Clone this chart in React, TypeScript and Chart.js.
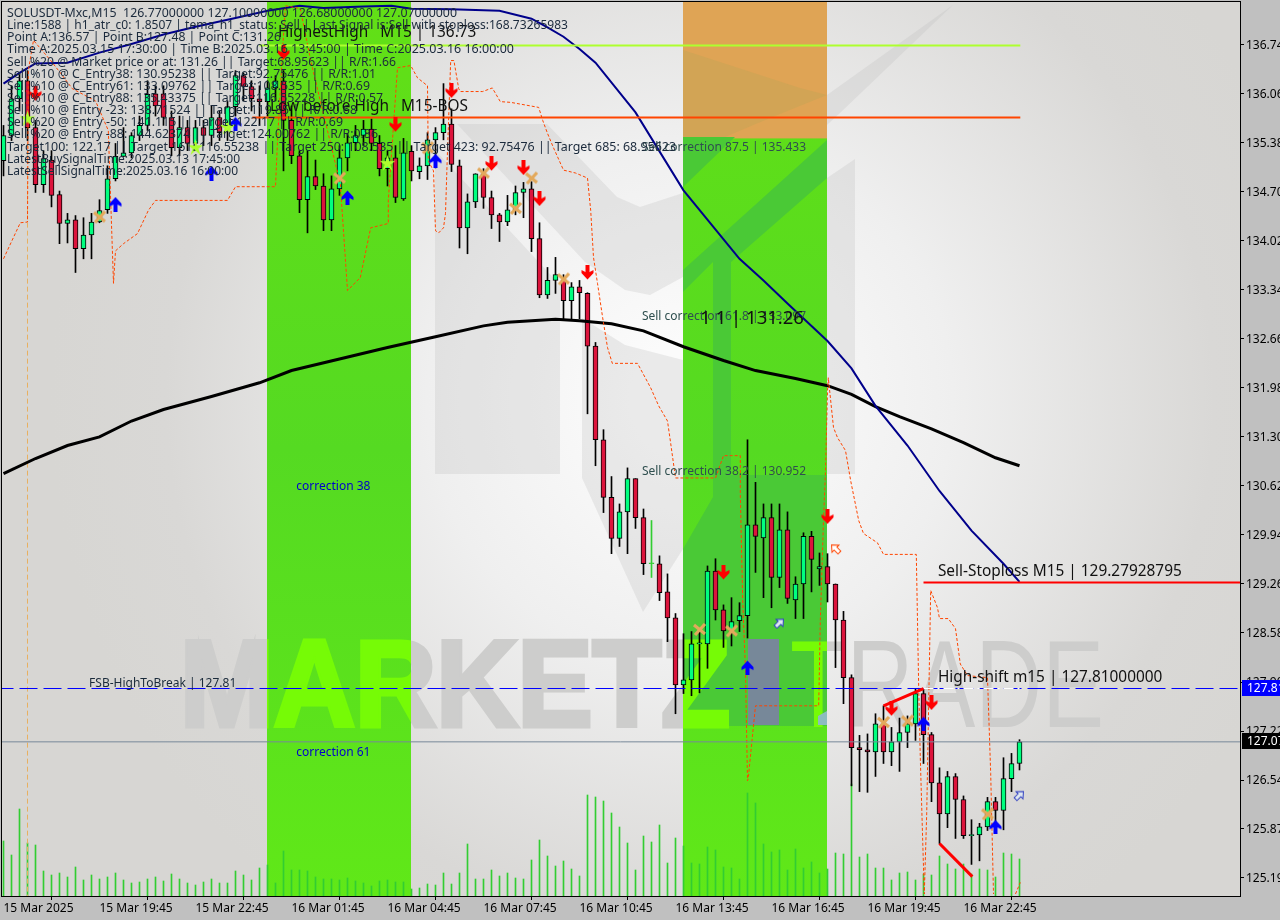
import React, { useEffect, useRef } from "react";
import { Chart, registerables } from "chart.js";

Chart.register(...registerables);

const highs = [135.62,136.17,136.35,136.38,135.69,135.27,135.27,134.71,134.40,134.37,134.34,134.40,134.59,135.06,135.37,135.59,135.52,135.75,136.24,136.17,136.17,135.82,135.75,135.69,135.69,135.69,135.89,135.82,135.96,136.38,136.35,136.24,136.17,136.24,136.31,136.38,135.89,135.27,135.27,135.14,134.95,134.92,135.34,135.51,135.62,135.69,135.71,135.48,135.27,135.34,135.44,135.34,135.17,135.52,135.59,136.20,135.85,135.14,134.67,134.95,135.02,134.71,134.40,134.65,134.78,134.83,134.84,134.27,133.65,133.79,133.55,133.44,133.47,133.30,132.61,131.40,130.75,130.37,130.87,130.72,130.30,130.14,129.65,129.40,128.85,128.57,128.60,128.61,129.51,129.61,128.97,129.07,129.00,131.26,130.67,130.37,130.37,130.37,130.26,129.36,129.97,129.99,129.69,129.68,129.26,128.88,128.00,127.16,127.18,127.46,127.57,127.27,127.40,127.43,127.81,127.81,127.20,126.71,126.66,126.63,126.32,125.99,125.94,126.30,126.30,126.85,126.91,127.10];
const opens = [135.13,135.48,135.99,136.24,135.59,134.80,135.14,134.66,134.26,134.31,133.91,134.10,134.28,134.45,134.88,135.19,135.24,135.48,135.62,136.06,136.06,135.73,135.31,135.59,135.37,135.59,135.48,135.73,135.59,135.88,136.31,136.16,135.99,135.95,136.14,136.24,135.69,135.20,134.59,134.91,134.78,134.31,134.74,135.17,135.38,135.48,135.57,135.37,135.02,135.17,134.60,135.26,134.98,135.06,135.42,135.52,135.64,135.06,134.20,134.56,134.95,134.62,134.38,134.28,134.45,134.69,134.74,134.05,133.27,133.47,133.47,133.19,133.38,133.29,132.56,131.26,130.46,129.89,130.26,130.72,130.18,129.54,129.54,129.15,128.79,127.86,127.93,128.43,128.43,129.44,128.90,128.61,128.75,128.82,130.08,129.90,130.18,129.35,130.01,129.04,129.26,129.92,129.47,129.50,129.26,128.76,127.96,126.99,126.96,126.93,127.32,126.93,127.07,127.20,127.32,127.74,127.17,126.50,126.07,126.59,126.27,125.77,125.78,125.89,126.24,126.12,126.56,126.77];
const closes = [135.48,135.99,136.24,135.59,134.80,135.16,134.65,134.26,134.31,133.91,134.10,134.28,134.44,134.88,135.19,135.24,135.48,135.62,136.05,135.89,135.73,135.31,135.59,135.37,135.59,135.48,135.73,135.52,135.88,136.31,136.16,135.99,135.95,136.14,136.24,135.69,135.20,134.59,134.91,134.78,134.31,134.74,135.17,135.38,135.48,135.57,135.37,135.02,135.17,134.62,135.24,134.99,135.06,135.42,135.52,135.64,135.08,134.20,134.56,134.95,134.62,134.38,134.28,134.45,134.69,134.74,134.05,133.27,133.47,133.55,133.19,133.38,133.30,132.56,131.26,130.46,129.89,130.26,130.72,130.18,129.54,129.54,129.14,128.79,127.86,127.93,128.43,128.43,129.44,128.90,128.61,128.74,128.82,130.08,129.92,130.18,129.35,130.01,129.06,129.26,129.92,129.60,129.50,129.26,128.76,127.96,126.99,126.96,126.93,127.32,126.93,127.07,127.20,127.32,127.74,127.17,126.50,126.07,126.59,126.27,125.77,125.77,125.89,126.24,126.12,126.56,126.77,127.07];
const lows = [134.92,135.41,135.82,135.41,134.69,134.69,134.49,133.98,133.99,133.58,133.77,133.77,134.27,134.40,134.85,135.19,135.17,135.41,135.55,135.75,135.62,135.20,135.20,135.27,135.27,135.34,135.34,135.41,135.41,135.75,135.96,135.82,135.62,135.75,135.96,134.99,135.09,134.41,134.13,134.73,134.16,134.16,134.65,134.99,135.27,135.34,135.27,134.92,134.78,134.55,134.58,134.85,134.88,134.87,135.03,135.42,134.98,133.92,133.84,134.48,134.47,134.19,134.01,134.23,134.38,134.34,133.87,133.23,133.22,133.29,132.93,132.93,132.94,131.62,130.90,130.25,129.68,129.78,129.68,130.03,129.39,129.35,129.03,128.46,127.46,127.74,127.71,127.75,128.09,128.76,128.38,128.40,128.60,128.51,129.42,129.07,128.93,129.21,128.99,128.78,128.78,129.15,129.24,129.01,128.10,127.60,126.46,126.38,126.37,126.59,126.77,126.74,126.66,126.99,127.09,126.77,126.24,125.66,125.88,125.73,125.73,125.37,125.42,125.84,125.80,125.85,126.38,126.68];
const volumes = [550,410,870,530,510,250,210,230,190,290,160,210,170,190,230,160,130,140,170,190,150,220,170,130,110,140,170,130,130,250,210,160,280,310,130,450,260,260,250,190,170,170,160,180,150,130,100,150,160,140,140,70,80,120,110,230,120,230,520,170,170,260,200,230,180,170,360,560,400,300,350,270,200,1010,990,950,830,690,530,260,600,540,710,330,580,500,330,320,490,460,290,280,170,1030,930,520,440,460,260,470,280,340,230,270,430,420,1120,390,420,280,280,160,230,240,160,220,210,400,320,270,320,220,270,260,190,430,420,370];

const tickPrices = [136.74,136.06,135.38,134.70,134.02,133.34,132.66,131.98,131.30,130.62,129.94,129.26,128.58,127.90,127.22,126.54,125.87,125.19];
const timeTickBars = [0,12,24,36,48,60,72,84,96,108,120];
const timeTickLabels = ["15 Mar 2025","15 Mar 19:45","15 Mar 22:45","16 Mar 01:45","16 Mar 04:45","16 Mar 07:45","16 Mar 10:45","16 Mar 13:45","16 Mar 16:45","16 Mar 19:45","16 Mar 22:45"];

const navyBars = [0,2,4,8,12,16,20,24,29,33,37,40,45,48.5,51,56,62,66,68,70,72,74,79,85,92,95,98,103,106,109,113,117,121,125,127];
const navyPrices = [136.20,136.35,136.48,136.49,136.63,136.75,136.88,136.99,137.11,137.21,137.28,137.25,137.27,137.28,137.24,137.23,137.21,137.10,136.98,136.85,136.68,136.49,135.80,134.72,133.77,133.47,133.15,132.63,132.25,131.73,131.18,130.55,130.00,129.54,129.29];
const blackBars = [0,4,8,12,16,20,26,32,36,42,48,54,60,63,66,69,72,76,80,85,90,94,99,103,106,109,112,116,120,124,127];
const blackPrices = [130.79,131.00,131.18,131.30,131.52,131.68,131.86,132.05,132.22,132.38,132.54,132.69,132.84,132.89,132.91,132.93,132.91,132.87,132.77,132.55,132.36,132.22,132.11,132.01,131.89,131.72,131.58,131.41,131.22,131.01,130.90];
const stopBars = [0,2.1,3,3.1,3.75,5.9,7.1,8.6,11.5,13.1,13.75,14,15,16.75,18.1,19,28,29,34,34.25,34.9,35.25,37.1,38.4,39.6,42.1,43,44.6,45.9,48.1,48.1,49.25,50.9,51.75,53,53.1,53.75,54,54.4,55,55.25,55.5,55.9,56.3,56.9,57.1,59.9,61.1,62.1,63.4,66.9,67.4,68,68.75,70,71.5,73,73.4,73.75,74.25,74.9,75.5,76.1,79.25,80.9,81.9,83,83.4,84,89,90,92.1,92.1,92.4,92.75,93,93.1,93.6,94,101.9,102.1,102.5,102.75,103,103.1,103.75,104.25,105.25,105.9,106.9,107.5,109.25,110,114.1,114.4,114.6,114.9,115.1,115.4,115.9,116.75,117,118.1,119,119.6,120.5,123,123.4,123.75];
const stopPrices = [133.77,134.27,134.28,136.38,136.80,136.52,136.35,136.13,135.96,135.55,133.43,133.88,133.98,134.12,134.44,134.58,134.58,134.77,134.77,135.41,136.70,137.28,137.24,136.52,135.96,134.81,133.33,133.51,134.20,134.26,134.58,136.42,136.45,136.28,136.17,135.13,134.99,134.16,134.13,134.20,134.40,135.27,136.52,136.52,136.13,136.09,136.09,136.14,135.95,135.94,135.87,135.69,135.51,135.31,135.00,134.96,134.89,134.44,133.79,133.43,132.95,132.54,132.32,132.32,131.98,131.73,131.52,131.21,130.73,130.73,131.04,131.04,130.51,129.03,128.06,126.53,126.57,127.13,127.57,127.57,128.75,130.14,130.83,131.94,132.12,131.43,131.29,131.11,130.69,130.14,129.96,129.83,129.67,129.67,127.82,126.85,125.70,124.96,126.07,129.17,128.93,128.78,128.78,128.64,128.15,127.99,127.96,126.63,124.96];
const stopTailBars = [126.5,127.1];
const stopTailPrices = [124.96,125.12];

const sellArrowBars = [4,35,49,56,61,65,67,73,90,103,111,116];
const sellArrowPrices = [136.06,136.63,135.63,136.10,135.09,135.03,134.60,133.58,129.42,130.19,127.53,127.61];
const buyArrowBars = [14,26,29,43,54,93,115,124];
const buyArrowPrices = [134.53,134.96,135.64,134.62,135.13,128.10,127.32,125.89];
const crossBars = [12,42,53,60,64,66,70,87,91,110,113,123];
const crossPrices = [134.35,134.89,135.31,134.96,134.47,134.89,133.49,128.63,128.61,127.34,127.36,126.07];
const starBars = [3,24,28,48];
const starPrices = [135.71,135.31,135.59,135.09];
const hollowSellBars = [104];
const hollowSellPrices = [129.75];
const hollowBuyBars = [97,127];
const hollowBuyPrices = [128.72,126.33];

const highestHigh = 136.73;
const lowBeforeHigh = 135.73;
const stopLoss = 129.28;
const highShift = 127.81;
const lastPrice = 127.07;
const pointA = 3;
const trendUpBars = [110,115];
const trendUpPrices = [127.57,127.81];
const trendDownBars = [117,121.1];
const trendDownPrices = [125.66,125.20];

const zoneStartBars = [33,85];
const zoneEndBars = [51,103];
const capPrice = 135.44;

const panelLines = [
  "SOLUSDT-Mxc,M15  126.77000000 127.10000000 126.68000000 127.07000000",
  "Line:1588 | h1_atr_c0: 1.8507 | tema_h1_status: Sell | Last Signal is:Sell with stoploss:168.73265983",
  "Point A:136.57 | Point B:127.48 | Point C:131.26",
  "Time A:2025.03.15 17:30:00 | Time B:2025.03.16 13:45:00 | Time C:2025.03.16 16:00:00",
  "Sell %20 @ Market price or at: 131.26 || Target:68.95623 || R/R:1.66",
  "Sell %10 @ C_Entry38: 130.95238 || Target:92.75476 || R/R:1.01",
  "Sell %10 @ C_Entry61: 133.09762 || Target:108.535 || R/R:0.69",
  "Sell %10 @ C_Entry88: 135.43375 || Target:116.55228 || R/R:0.57",
  "Sell %10 @ Entry -23: 138.71524 || Target:119.85 || R/R:0.68",
  "Sell %20 @ Entry -50: 141.115 || Target:122.17 || R/R:0.69",
  "Sell %20 @ Entry -88: 144.62374 || Target:124.00762 || R/R:0.86",
  "Target100: 122.17 || Target 161: 116.55238 || Target 250: 108.535 || Target 423: 92.75476 || Target 685: 68.95623",
  "LatestBuySignalTime:2025.03.13 17:45:00",
  "LatestSellSignalTime:2025.03.16 16:00:00",
];
const panelRightEdges = [457,568,281,514,396,376,370,383,357,343,378,676,240,238];

const noteTexts = ["HighestHigh   M15 | 136.73","Low before High   M15-BOS","Sell correction 87.5 | 135.433","Sell correction 61.8 | 133.097","Sell correction 38.2 | 130.952","1 1 | 131.26","correction 38","correction 61","FSB-HighToBreak | 127.81","Sell-Stoploss M15 | 129.27928795","High-shift m15 | 127.81000000"];
const noteBars = [34.3,33.3,79.8,79.8,79.8,87.1,36.6,36.6,10.7,116.8,116.8];
const notePrices = [136.91,135.89,135.32,132.98,130.83,132.95,130.62,126.93,127.89,129.44,127.97];

const UI_FONT = '"Noto Sans", sans-serif';
const noteStyle = (t: string) => {
  if (t.startsWith("Sell correction")) return { font: `12px ${UI_FONT}`, color: "#2f4f4f" };
  if (t.startsWith("correction")) return { font: `12px ${UI_FONT}`, color: "#0000cd" };
  if (t.startsWith("FSB")) return { font: `12px ${UI_FONT}`, color: "#1a2a3a" };
  if (t.startsWith("1 1")) return { font: `18.5px ${UI_FONT}`, color: "#111" };
  return { font: `15.4px ${UI_FONT}`, color: "#111" };
};

const sprite = (w: number, h: number, draw: (c: CanvasRenderingContext2D) => void) => {
  const cv = document.createElement("canvas");
  cv.width = w;
  cv.height = h;
  draw(cv.getContext("2d") as CanvasRenderingContext2D);
  return cv;
};
const arrow = (color: string, up: boolean) =>
  sprite(13, 15, (c) => {
    if (up) {
      c.translate(0, 15);
      c.scale(1, -1);
    }
    c.fillStyle = color;
    c.beginPath();
    [[4.5,0],[8.5,0],[8.5,7],[12.5,5],[12.5,8],[6.5,14.5],[0.5,8],[0.5,5],[4.5,7]].forEach(([x,y],i)=> i? c.lineTo(x,y): c.moveTo(x,y));
    c.closePath();
    c.fill();
  });
const cross = () =>
  sprite(15, 15, (c) => {
    c.strokeStyle = "#e3a95c";
    c.lineWidth = 3.2;
    c.beginPath();
    c.moveTo(2, 3);
    c.lineTo(13, 12);
    c.moveTo(13, 2);
    c.lineTo(3, 13);
    c.stroke();
  });
const star = () =>
  sprite(17, 17, (c) => {
    c.fillStyle = "#adff2f";
    c.beginPath();
    for (let k = 0; k < 10; k++) {
      const r = k % 2 ? 3 : 8.5;
      const a = -Math.PI / 2 + (k * Math.PI) / 5;
      c.lineTo(8.5 + r * Math.cos(a), 8.5 + r * Math.sin(a));
    }
    c.closePath();
    c.fill();
  });
const hollow = (color: string, fill: string, rot: number) =>
  sprite(13, 13, (c) => {
    c.translate(6.5, 6.5);
    c.rotate(rot);
    c.strokeStyle = color;
    c.fillStyle = fill;
    c.lineWidth = 1;
    c.beginPath();
    [[-2,5.5],[2,5.5],[2,0],[5,0],[0,-5.5],[-5,0],[-2,0]].forEach(([x,y],i)=> i? c.lineTo(x,y): c.moveTo(x,y));
    c.closePath();
    c.fill();
    c.stroke();
  });

const pts = (xs: number[], ys: number[]) => xs.map((x, i) => ({ x, y: ys[i] }));
const bars = opens.map((_, i) => i);

const drawMark = (c: CanvasRenderingContext2D, color: string) => {
  c.save();
  c.fillStyle = color;
  c.strokeStyle = color;
  c.lineJoin = "miter";
  c.textBaseline = "alphabetic";
  c.textAlign = "left";
  c.font = 'bold 122px "Liberation Sans"';
  const w1 = c.measureText("MARKETZ").width;
  c.save();
  c.translate(180, 726);
  c.scale(550 / w1, 1);
  c.lineWidth = 5;
  c.strokeText("MARKETZ", 0, 0);
  c.fillText("MARKETZ", 0, 0);
  c.restore();
  c.font = '124px "Liberation Sans"';
  const w2 = c.measureText("TRADE").width;
  c.save();
  c.translate(790, 727);
  c.scale(314 / w2, 1);
  c.fillText("TRADE", 0, 0);
  c.restore();
  c.restore();
};
const poly = (c: CanvasRenderingContext2D, p: number[][]) => {
  c.beginPath();
  p.forEach(([x, y], i) => (i ? c.lineTo(x, y) : c.moveTo(x, y)));
  c.closePath();
  c.fill();
};

const backdrop = {
  id: "backdrop",
  beforeDraw(chart: any) {
    const { ctx: c, chartArea: a, scales } = chart;
    c.save();
    c.fillStyle = "#c0c0c0";
    c.fillRect(0, 0, chart.width, chart.height);
    c.beginPath();
    c.rect(a.left, a.top, a.right - a.left, a.bottom - a.top);
    c.clip();
    const g = c.createRadialGradient(690, 400, 60, 690, 400, 640);
    g.addColorStop(0, "#fbfbfb");
    g.addColorStop(0.35, "#efefef");
    g.addColorStop(0.8, "#d9d8d6");
    g.addColorStop(1, "#d7d6d3");
    c.fillStyle = g;
    c.fillRect(a.left, a.top, a.right - a.left, a.bottom - a.top);

    c.fillStyle = "rgba(190,190,190,0.27)";
    poly(c, [[435,150],[560,285],[560,474],[435,474]]);
    poly(c, [[457,124],[547,124],[617,197],[640,207],[683,193],[683,277],[650,295],[625,290],[585,262]]);
    poly(c, [[582,318],[625,345],[683,360],[683,549],[643,612],[582,478]]);
    poly(c, [[827,178],[855,159],[855,474],[827,474]]);
    poly(c, [[827,95],[953,5],[840,113],[827,125]]);
    drawMark(c, "#cdcdcc");

    zoneStartBars.forEach((start, i) => {
      const x0 = Math.floor(scales.x.getPixelForValue(start));
      const x1 = Math.floor(scales.x.getPixelForValue(zoneEndBars[i]));
      const zg = c.createLinearGradient(0, a.top, 0, a.bottom);
      zg.addColorStop(0, "#62e016");
      zg.addColorStop(0.5, "#55da22");
      zg.addColorStop(1, "#60e818");
      c.save();
      c.beginPath();
      c.rect(x0, a.top, x1 - x0, a.bottom - a.top);
      c.clip();
      c.fillStyle = zg;
      c.fillRect(x0, a.top, x1 - x0, a.bottom - a.top);
      if (i === 1) {
        const capY = scales.y.getPixelForValue(capPrice);
        c.fillStyle = "#dfa455";
        c.fillRect(x0, a.top, x1 - x0, capY - a.top);
        c.fillStyle = "rgba(190,165,85,0.4)";
        poly(c, [[683,50],[800,88],[827,95],[770,118],[725,137],[683,137]]);
        c.fillStyle = "#4ac936";
        poly(c, [[683,137],[735,137],[683,187]]);
        poly(c, [[683,270],[827,140],[827,178],[731,262],[713,262],[683,292]]);
        c.fillRect(713, 262, 18, 235);
        poly(c, [[683,475],[827,475],[827,726],[683,726],[683,549],[713,497],[713,475]]);
      }
      drawMark(c, "#76fb06");
      if (i === 1) {
        c.fillStyle = "#778899";
        c.fillRect(748, 639, 31, 86);
        c.fillStyle = "#8cbcc0";
        poly(c, [[818,725],[818,716],[827,711],[827,725]]);
      }
      c.restore();
    });
    c.restore();
  },
};

const overlay = {
  id: "overlay",
  afterDraw(chart: any) {
    const { ctx: c, chartArea: a, scales } = chart;
    c.save();
    c.strokeStyle = "#000";
    c.lineWidth = 1;
    c.strokeRect(a.left - 0.5, a.top - 0.5, a.right - a.left + 1, a.bottom - a.top + 1);
    c.textBaseline = "middle";
    c.textAlign = "left";

    noteTexts.forEach((t, i) => {
      const s = noteStyle(t);
      c.font = s.font;
      c.fillStyle = s.color;
      c.fillText(t, scales.x.getPixelForValue(noteBars[i]), scales.y.getPixelForValue(notePrices[i]) + 0.6);
    });

    c.font = `12px ${UI_FONT}`;
    c.fillStyle = "#1b2a3c";
    panelLines.forEach((t, i) => {
      const w = c.measureText(t).width;
      c.save();
      c.translate(7, 13.5 + i * 12.15);
      c.scale((panelRightEdges[i] - 7) / w, 1);
      c.fillText(t, 0, 0);
      c.restore();
    });

    [[highShift, "#0000ff", "127.81"], [lastPrice, "#000000", "127.07"]].forEach(([price, bg, txt]) => {
      const y = Math.floor(scales.y.getPixelForValue(price as number));
      c.fillStyle = bg as string;
      c.fillRect(a.right + 2, y - 8, chart.width - a.right - 2, 16);
      c.fillStyle = "#fff";
      c.font = `12px ${UI_FONT}`;
      c.fillText(txt as string, a.right + 7, y + 0.5);
    });
    c.restore();
  },
};

export default function App() {
  const ref = useRef<HTMLCanvasElement>(null);
  useEffect(() => {
    const line = (data: any[], color: string, width: number, order: number, dash: number[] = []) => ({
      type: "line" as const,
      data,
      borderColor: color,
      borderWidth: width,
      borderDash: dash,
      pointRadius: 0,
      tension: 0,
      fill: false,
      order,
    });
    const marks = (xs: number[], ys: number[], img: HTMLCanvasElement, order: number) => ({
      type: "scatter" as const,
      data: pts(xs, ys),
      pointStyle: img,
      pointRadius: 7,
      order,
    });
    const isThin = (i: number) => i === 81;
    const up = (i: number) => closes[i] >= opens[i];
    const xEnd = 154.5625;
    const chart = new Chart(ref.current as HTMLCanvasElement, {
      data: {
        datasets: [
          {
            type: "bar",
            data: bars.map((i) => ({ x: i, y: volumes[i] })),
            yAxisID: "vol",
            backgroundColor: "#32cd32",
            barThickness: 1,
            grouped: false,
            order: 30,
          },
          line([{ x: pointA, y: 136.38 }, { x: pointA, y: 124.9 }], "#e8b060", 1, 29, [5, 3]),
          {
            type: "bar",
            data: bars.map((i) => ({ x: i, y: [lows[i], highs[i]] })),
            backgroundColor: bars.map((i) => (isThin(i) ? "#32cd32" : "#000000")),
            barThickness: 1,
            grouped: false,
            order: 20,
          },
          {
            type: "bar",
            data: bars.map((i) => ({ x: i, y: [opens[i], closes[i]] })),
            backgroundColor: bars.map((i) => (isThin(i) ? "#32cd32" : up(i) ? "#00ff7f" : "#dc143c")),
            borderColor: bars.map((i) => (isThin(i) ? "#32cd32" : "#000000")),
            borderWidth: 1,
            borderSkipped: false,
            barThickness: 5,
            minBarLength: 1,
            grouped: false,
            order: 19,
          },
          line(pts(blackBars, blackPrices), "#000000", 3, 12),
          line(pts(navyBars, navyPrices), "#00008b", 2, 11),
          line(pts(stopBars, stopPrices), "#ff4500", 1, 10, [3, 2]),
          line(pts(stopTailBars, stopTailPrices), "#ff4500", 1, 10, [3, 2]),
          line([{ x: 32, y: highestHigh }, { x: 127.1, y: highestHigh }], "#adff2f", 2, 9),
          line([{ x: 31.1, y: lowBeforeHigh }, { x: 127.1, y: lowBeforeHigh }], "#ff4500", 2, 9),
          line([{ x: 115, y: stopLoss }, { x: xEnd, y: stopLoss }], "#ff0000", 2, 9),
          line([{ x: -1, y: highShift }, { x: xEnd, y: highShift }], "#0000ff", 1, 9, [18, 6]),
          line([{ x: 115, y: highShift }, { x: 127.1, y: highShift }], "#ffffff", 1, 8.5, [10, 4, 2, 4]),
          line([{ x: -1, y: lastPrice }, { x: xEnd, y: lastPrice }], "#778899", 1, 9),
          line(pts(trendUpBars, trendUpPrices), "#ff0000", 3, 8),
          line(pts(trendDownBars, trendDownPrices), "#ff0000", 3, 8),
          marks(hollowSellBars, hollowSellPrices, hollow("#ff4500", "#ffffff", -0.8), 6),
          marks(hollowBuyBars, hollowBuyPrices, hollow("#3040c0", "#dfe8f0", 0.8), 6),
          marks(sellArrowBars, sellArrowPrices, arrow("#ff0000", false), 5),
          marks(buyArrowBars, buyArrowPrices, arrow("#0000ff", true), 5),
          marks(crossBars, crossPrices, cross(), 4),
          marks(starBars, starPrices, star(), 3),
        ] as any,
      },
      options: {
        responsive: false,
        animation: false,
        devicePixelRatio: 1,
        parsing: { xAxisKey: "x", yAxisKey: "y" },
        layout: { autoPadding: false, padding: { left: 2, top: 2, right: 0, bottom: 0 } },
        plugins: { legend: { display: false }, tooltip: { enabled: false } },
        scales: {
          x: {
            type: "linear",
            min: -0.1875,
            max: xEnd,
            offset: false,
            grid: { drawOnChartArea: false, tickLength: 4, color: "#000" },
            border: { color: "#000", width: 1 },
            afterBuildTicks: (s: any) => {
              s.ticks = timeTickBars.map((value) => ({ value }));
            },
            afterFit: (s: any) => {
              s.height = 24;
              s.paddingLeft = 0;
              s.paddingRight = 0;
            },
            ticks: {
              align: "start",
              autoSkip: false,
              maxRotation: 0,
              padding: 1,
              color: "#000",
              font: { family: "Noto Sans", size: 12 },
              callback: (v: any) => timeTickLabels[timeTickBars.indexOf(Number(v))],
            },
          },
          y: {
            type: "linear",
            position: "right",
            min: 124.932,
            max: 137.332,
            grid: { drawOnChartArea: false, tickLength: 4, color: "#000" },
            border: { color: "#000", width: 1 },
            afterBuildTicks: (s: any) => {
              s.ticks = tickPrices.map((value) => ({ value }));
            },
            afterFit: (s: any) => {
              s.width = 40;
              s.paddingTop = 0;
              s.paddingBottom = 0;
            },
            ticks: {
              autoSkip: false,
              padding: 2,
              labelOffset: 1,
              color: "#000",
              font: { family: "Noto Sans", size: 12 },
              callback: (v: any) => Number(v).toFixed(2),
            },
          },
          vol: { type: "linear", display: false, min: 0, max: 8940 },
        },
      } as any,
      plugins: [backdrop, overlay],
    } as any);
    return () => chart.destroy();
  }, []);
  return (
    <div style={{ position: "fixed", left: 0, top: 0, width: 1280, height: 920 }}>
      <canvas ref={ref} width={1280} height={920} style={{ display: "block", width: 1280, height: 920 }} />
    </div>
  );
}
